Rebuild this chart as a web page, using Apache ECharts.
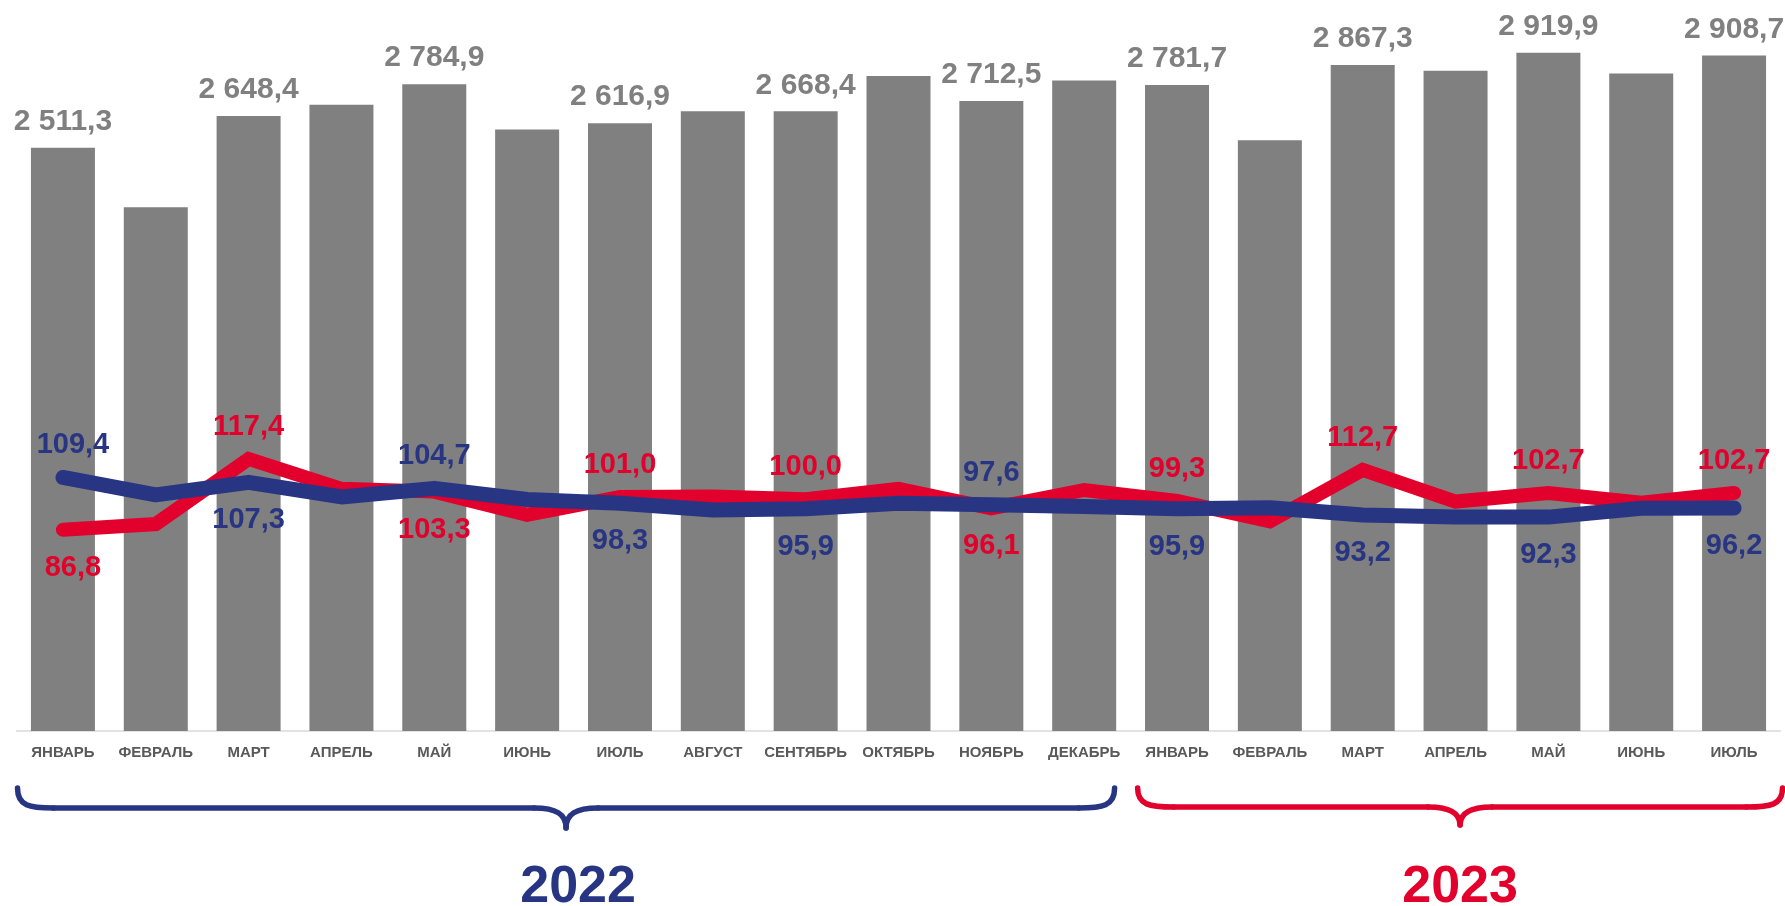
<!DOCTYPE html>
<html>
<head>
<meta charset="utf-8">
<script src="https://cdn.jsdelivr.net/npm/echarts@6/dist/echarts.min.js"></script>
<style>
  html, body { margin: 0; padding: 0; background: #fff; }
  #chart { width: 1785px; height: 906px; }
</style>
</head>
<body>
<div id="chart"></div>
<script>
// месяцы
const months = ['ЯНВАРЬ', 'ФЕВРАЛЬ', 'МАРТ', 'АПРЕЛЬ', 'МАЙ', 'ИЮНЬ', 'ИЮЛЬ', 'АВГУСТ', 'СЕНТЯБРЬ',
  'ОКТЯБРЬ', 'НОЯБРЬ', 'ДЕКАБРЬ', 'ЯНВАРЬ', 'ФЕВРАЛЬ', 'МАРТ', 'АПРЕЛЬ', 'МАЙ', 'ИЮНЬ', 'ИЮЛЬ'];
// столбцы
const volume = [2511.3, 2254.7, 2648.4, 2696.7, 2784.9, 2590.2, 2616.9, 2668.0, 2668.4, 2820.0,
  2712.5, 2801.0, 2781.7, 2543.0, 2867.3, 2843.0, 2919.9, 2831.0, 2908.7];
// красная линия
const redIndex = [86.8, 89.3, 117.4, 104.5, 103.3, 93.3, 101.0, 101.2, 100.0, 104.5,
  96.1, 104.0, 99.3, 90.5, 112.7, 99.0, 102.7, 98.5, 102.7];
// синяя линия
const blueIndex = [109.4, 101.9, 107.3, 101.0, 104.7, 99.9, 98.3, 95.4, 95.9, 98.3,
  97.6, 96.9, 95.9, 96.3, 93.2, 92.4, 92.3, 96.1, 96.2];
const years = ['2022', '2023'];

// где подписи: 't' сверху, 'b' снизу, '' нет
const barLabelAt = [1, 0, 1, 0, 1, 0, 1, 0, 1, 0, 1, 0, 1, 0, 1, 0, 1, 0, 1];
const redLabelAt = ['b', '', 't', '', 'b', '', 't', '', 't', '', 'b', '', 't', '', 't', '', 't', '', 't'];
const blueLabelAt = ['t', '', 'b', '', 't', '', 'b', '', 'b', '', 't', '', 'b', '', 'b', '', 'b', '', 'b'];

const RED = '#e2002c';
const BLUE = '#283583';
const FONT = '"Liberation Sans", Arial, sans-serif';

function fmt(v) {
  const parts = v.toFixed(1).split('.');
  const int = parts[0].replace(/\B(?=(\d{3})+(?!\d))/g, ' ');
  return int + ',' + parts[1];
}

function lineItems(values, sides, color) {
  return values.map((v, i) => {
    const s = sides[i];
    if (!s) return v;
    return {
      value: v,
      label: {
        show: true,
        position: s === 't' ? 'top' : 'bottom',
        distance: s === 't' ? 17 : 23,
        offset: i === 0 ? [10, 0] : [0, 0],
        color: color,
        fontSize: 29,
        fontWeight: 'bold',
        fontFamily: FONT,
        formatter: p => fmt(p.value)
      }
    };
  });
}

const chart = echarts.init(document.getElementById('chart'));

const option = {
  animation: false,
  grid: { left: 16.5, right: 4.5, top: 11, bottom: 175 },
  xAxis: {
    type: 'category',
    data: months,
    axisLine: { lineStyle: { color: '#d9d9d9', width: 1.5 } },
    axisTick: { show: false },
    axisLabel: {
      interval: 0,
      margin: 14,
      color: '#595959',
      fontSize: 15,
      fontWeight: 'bold',
      fontFamily: FONT
    }
  },
  yAxis: [
    { type: 'value', min: 0, max: 3100, show: false, splitLine: { show: false } },
    { type: 'value', min: 0, max: 310.7, show: false, splitLine: { show: false } }
  ],
  series: [
    {
      type: 'bar',
      barWidth: 64,
      itemStyle: { color: '#808080' },
      data: volume.map((v, i) => barLabelAt[i] ? {
        value: v,
        label: {
          show: true,
          position: 'top',
          distance: 11,
          color: '#808080',
          fontSize: 30,
          fontWeight: 'bold',
          fontFamily: FONT,
          formatter: p => fmt(p.value)
        }
      } : v)
    },
    {
      type: 'line',
      yAxisIndex: 1,
      symbol: 'circle',
      symbolSize: 1,
      itemStyle: { color: RED },
      lineStyle: { color: RED, width: 14, cap: 'round', join: 'miter' },
      data: lineItems(redIndex, redLabelAt, RED),
      z: 3
    },
    {
      type: 'line',
      yAxisIndex: 1,
      symbol: 'circle',
      symbolSize: 1,
      itemStyle: { color: BLUE },
      lineStyle: { color: BLUE, width: 15, cap: 'round', join: 'round' },
      data: lineItems(blueIndex, blueLabelAt, BLUE),
      z: 4
    }
  ]
};

chart.setOption(option);

// фигурная скобка из кривых и отрезков
function brace(x1, x2, yTop, yLine, yTip, color) {
  const mid = (x1 + x2) / 2;
  const st = { fill: null, stroke: color, lineWidth: 5.5, lineCap: 'round' };
  const curve = (a, b, c, d) => ({
    type: 'bezierCurve',
    shape: { x1: a[0], y1: a[1], cpx1: b[0], cpy1: b[1], cpx2: c[0], cpy2: c[1], x2: d[0], y2: d[1] },
    style: st
  });
  const seg = (a, b) => ({
    type: 'line',
    shape: { x1: a[0], y1: a[1], x2: b[0], y2: b[1] },
    style: st
  });
  return [
    curve([x1, yTop], [x1, yLine - 2], [x1 + 12, yLine], [x1 + 36, yLine]),
    seg([x1 + 36, yLine], [mid - 32, yLine]),
    curve([mid - 32, yLine], [mid - 10, yLine], [mid, yLine + 6], [mid, yTip]),
    curve([mid, yTip], [mid, yLine + 6], [mid + 10, yLine], [mid + 32, yLine]),
    seg([mid + 32, yLine], [x2 - 36, yLine]),
    curve([x2 - 36, yLine], [x2 - 12, yLine], [x2, yLine - 2], [x2, yTop])
  ];
}

const px = i => chart.convertToPixel({ xAxisIndex: 0 }, i);
const half = (px(1) - px(0)) / 2;
const b1 = px(0) - half + 1, b2 = px(11) + half - 16;
const r1 = px(12) - half + 7, r2 = px(18) + half + 2;

chart.setOption({
  graphic: [].concat(
    brace(b1, b2, 788, 808, 828, BLUE),
    brace(r1, r2, 788, 807, 825, RED),
    [
      {
        type: 'text',
        x: (b1 + b2) / 2 + 12,
        y: 888,
        style: {
          text: years[0], fill: BLUE, font: 'bold 52px ' + FONT,
          textAlign: 'center', textVerticalAlign: 'middle'
        }
      },
      {
        type: 'text',
        x: (r1 + r2) / 2,
        y: 888,
        style: {
          text: years[1], fill: RED, font: 'bold 52px ' + FONT,
          textAlign: 'center', textVerticalAlign: 'middle'
        }
      }
    ]
  )
});
</script>
</body>
</html>
